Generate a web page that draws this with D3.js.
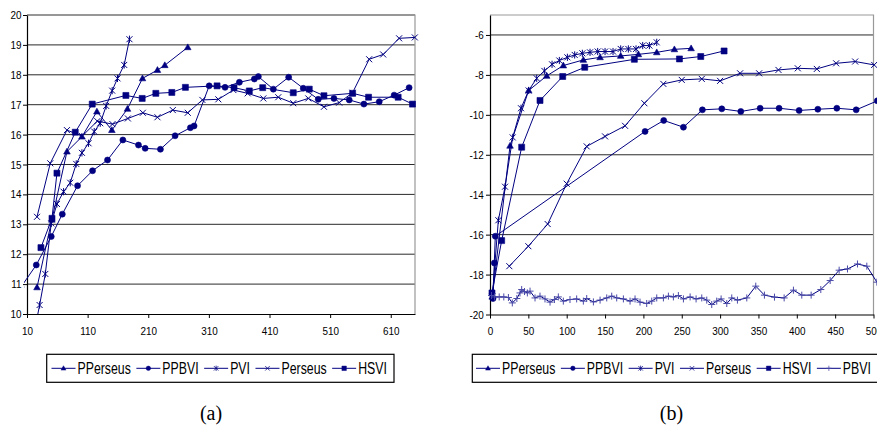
<!DOCTYPE html>
<html lang="en">
<head>
<meta charset="UTF-8">
<title>Value vs time, two domains</title>
<script src="https://d3js.org/d3.v7.min.js"></script>
<style>
    body { margin: 0; background: #fff; font-family: "Liberation Sans", Arial, sans-serif; }
    svg { display: block; }
    .tick text { font-size: 11px; fill: #000; font-family: "Liberation Sans", Arial, sans-serif; }
    .legend-text { font-size: 16px; fill: #000; }
    .caption { font-family: "Liberation Serif", "Times New Roman", serif; font-size: 20px; fill: #000; }
</style>
</head>
<body>
<svg id="chart" width="877" height="425"></svg>
<script>

// ---- chart (a) data: [time, value] ----
const aPPerseus = [[26.5,10.89],[51,13.15],[75.9,15.43],[100.6,15.93],[125.3,16.77],[150,16.15],[175.7,16.86],[200.5,17.88],[225.2,18.16],[237.3,18.32],[275.2,18.92]];
const aPPBVI = [[0,10.9],[25.3,11.64],[50,12.59],[68.2,13.34],[93.4,14.29],[118.1,14.79],[142.8,15.15],[168.1,15.82],[193.9,15.65],[204.9,15.54],[230.1,15.51],[254.3,15.96],[279.5,16.23],[285.6,16.29],[310.5,17.63],[336.7,17.58],[360.3,17.75],[385,17.86],[391.6,17.94],[416.3,17.52],[441.6,17.92],[465.7,17.55],[490.4,17.18],[516.3,17.21],[541.5,17.16],[565.7,17.02],[591,17.1],[615.6,17.32],[640.3,17.57]];
const aPVI = [[24,9.6],[30.8,10.3],[40.2,11.34],[50,13.03],[59.4,13.68],[70.3,14.09],[81.3,14.39],[91.2,15.02],[100.6,15.39],[111.5,15.71],[120.9,16.1],[130.8,16.38],[140.6,16.96],[150.5,17.47],[159.3,17.88],[170.3,18.33],[179,19.19]];
const aPerseus = [[26.5,13.25],[48.4,15.04],[75.9,16.15],[101,15.95],[126,16.45],[151,16.35],[176.4,16.54],[201.1,16.73],[225.2,16.58],[250.5,16.82],[275.2,16.73],[299.3,17.16],[325.6,17.18],[350.4,17.49],[374,17.38],[399.8,17.21],[424.5,17.25],[449.2,17.05],[474,17.21],[499.8,16.93],[525,17.07],[547,17.4],[574.4,18.52],[597.5,18.68],[623.8,19.22],[649.7,19.25]];
const aHSVI = [[33,12.22],[51.2,13.2],[59.4,14.71],[89.6,16.08],[117.6,17.02],[173.1,17.31],[200,17.21],[222.5,17.38],[248.9,17.41],[271.3,17.58],[323.5,17.63],[351.5,17.57],[376.7,17.46],[398.8,17.57],[449.2,17.4],[475.6,17.52],[499.8,17.3],[547.1,17.38],[573.4,17.25],[622.2,17.25],[645.9,17.02]];

const aXTicks = [10, 110, 210, 310, 410, 510, 610];
const aYTicks = [10, 11, 12, 13, 14, 15, 16, 17, 18, 19, 20];

// ---- chart (b) data ----
const bPPerseus = [[3,-19.1],[26.1,-11.55],[50.4,-8.78],[73.9,-8.05],[95.6,-7.53],[121.7,-7.25],[143.5,-7.12],[170.4,-7.05],[193.5,-6.97],[217.4,-6.87],[240.4,-6.72],[262.2,-6.67]];
const bPPBVI = [[3.9,-19.2],[5.6,-17.42],[6.9,-16.08],[202.2,-10.83],[226.5,-10.28],[252.2,-10.62],[276.9,-9.75],[302.2,-9.7],[327,-9.83],[352.2,-9.67],[376.9,-9.67],[403,-9.78],[427.4,-9.72],[452.2,-9.67],[477.4,-9.75],[505,-9.3]];
const bPVI = [[3,-19.1],[10.9,-15.28],[19.6,-13.6],[29.6,-11.13],[40.4,-9.67],[50.4,-8.78],[60.9,-8.17],[70.9,-7.8],[80.9,-7.47],[90.4,-7.28],[100.9,-7.12],[110.4,-7.0],[120.4,-6.92],[130.4,-6.87],[140.4,-6.83],[150,-6.83],[160.4,-6.83],[170.4,-6.7],[180.4,-6.7],[190.4,-6.7],[199.1,-6.53],[207.8,-6.53],[217.4,-6.37]];
const bPerseus = [[25.2,-17.58],[50,-16.58],[75.2,-15.47],[100,-13.45],[126.1,-11.58],[150,-11.08],[176.1,-10.55],[201.3,-9.42],[226,-8.45],[250,-8.25],[276.1,-8.2],[300,-8.3],[326.1,-7.92],[350.9,-7.92],[376.1,-7.75],[401.3,-7.67],[426.1,-7.7],[451.3,-7.42],[476.1,-7.33],[500.9,-7.5]];
const bHSVI = [[2.6,-18.92],[15.2,-16.3],[41.3,-11.62],[65.2,-9.28],[94.8,-8.08],[123.5,-7.62],[188.2,-7.22],[247,-7.2],[274.8,-7.08],[305.2,-6.8]];
const bPBVI = [[2,-19.05],[6,-19.12],[12,-19.12],[18,-19.12],[24,-19.15],[29.1,-19.42],[35,-19.2],[39.1,-18.92],[41.3,-18.75],[45,-18.85],[48.7,-18.92],[52.2,-18.83],[58.7,-19.17],[65.2,-19.08],[71.7,-19.22],[78.3,-19.38],[84,-19.25],[89.1,-19.12],[95.6,-19.33],[104.3,-19.25],[113,-19.22],[121.7,-19.33],[126.1,-19.2],[134.8,-19.37],[143.5,-19.28],[152.2,-19.17],[158.7,-19.08],[165.2,-19.17],[173.9,-19.22],[182.6,-19.33],[189.1,-19.22],[195.6,-19.38],[204.3,-19.45],[210.9,-19.33],[217.4,-19.17],[226.1,-19.17],[232.6,-19.08],[239.1,-19.12],[245.6,-19.05],[252.2,-19.22],[260.9,-19.12],[268.7,-19.22],[276.1,-19.17],[282.6,-19.28],[289.1,-19.5],[295.6,-19.33],[301.3,-19.22],[308.7,-19.45],[315.2,-19.17],[322.6,-19.28],[334.8,-19.17],[346.5,-18.58],[357.8,-19.03],[370.9,-19.13],[383.5,-19.17],[395.6,-18.78],[406.5,-19.03],[418.7,-19.03],[431.3,-18.75],[443.5,-18.3],[455.2,-17.78],[466.1,-17.72],[479.1,-17.47],[491.3,-17.58],[504.4,-18.38]];

const bXTicks = [0, 50, 100, 150, 200, 250, 300, 350, 400, 450, 500];
const bYTicks = [-20, -18, -16, -14, -12, -10, -8, -6];

const navy = '#000080';
const svg = d3.select('#chart');

// marker shapes, centred on 0,0
const markerPaths = {
    triangle: 'M0,-3.4L3.3,2.4L-3.3,2.4Z',
    circle: 'M-3,0a3,3 0 1,0 6,0a3,3 0 1,0 -6,0',
    square: 'M-3,-3h6v6h-6Z',
    cross: 'M-3,-3L3,3M-3,3L3,-3',
    star: 'M-3,-3L3,3M-3,3L3,-3M0,-3.6V3.6',
    plus: 'M-3.5,0H3.5M0,-3.5V3.5'
};
const filled = { triangle: true, circle: true, square: true };

function drawMarker(g, type, x, y, color, k) {
    const m = g.append('path')
        .attr('d', markerPaths[type])
        .attr('transform', `translate(${x},${y}) scale(${k || 1})`);
    if (filled[type]) m.attr('fill', navy).attr('stroke', navy).attr('stroke-width', 0.6);
    else m.attr('fill', 'none').attr('stroke', color || navy).attr('stroke-width', 1);
}

function drawPanel(p) {
    const g = svg.append('g').attr('transform', `translate(${p.left},${p.top})`);
    const x = d3.scaleLinear().domain(p.xDomain).range([0, p.width]);
    const y = d3.scaleLinear().domain(p.yDomain).range([p.height, 0]);

    // horizontal gridlines
    g.selectAll('.grid')
        .data(p.gridTicks)
        .join('line')
        .attr('x1', 0).attr('x2', p.width)
        .attr('y1', d => y(d)).attr('y2', d => y(d))
        .attr('stroke', '#2a2a2a')
        .attr('stroke-width', 1);

    // plot area border (top + right)
    g.append('path')
        .attr('d', `M0,0H${p.width}V${p.height}`)
        .attr('fill', 'none')
        .attr('stroke', '#999')
        .attr('stroke-width', 1.2);

    // axes
    const xAxis = g.append('g')
        .attr('transform', `translate(0,${p.height})`)
        .call(d3.axisBottom(x).tickValues(p.xTicks).tickFormat(d3.format('d'))
            .tickSizeInner(4).tickSizeOuter(0).tickPadding(9));
    const yAxis = g.append('g')
        .call(d3.axisLeft(y).tickValues(p.yTicks).tickFormat(d => d < 0 ? '-' + Math.abs(d) : d)
            .tickSizeInner(4).tickSizeOuter(0).tickPadding(p.yPad));
    [xAxis, yAxis].forEach(a => {
        a.select('.domain').attr('stroke', '#000').attr('stroke-width', 1.2);
        a.selectAll('.tick line').attr('stroke', '#000');
        a.selectAll('.tick text').attr('transform', 'scale(0.9,1)');
    });

    // clip the series like the spreadsheet plot area
    const clipId = 'clip-' + p.name;
    g.append('clipPath').attr('id', clipId)
        .append('rect')
        .attr('x', -3).attr('y', -2)
        .attr('width', p.width + 12).attr('height', p.height + 2);

    const plot = g.append('g').attr('clip-path', `url(#${clipId})`);
    const line = d3.line().x(d => x(d[0])).y(d => y(d[1]));

    p.series.forEach(s => {
        plot.append('path')
            .datum(s.data)
            .attr('d', line)
            .attr('fill', 'none')
            .attr('stroke', navy)
            .attr('stroke-width', 1);
        const mg = plot.append('g');
        s.data.forEach(d => drawMarker(mg, s.type, x(d[0]), y(d[1]), s.markerColor));
    });
}

// legend: sample line + marker, then the label squeezed like the original
function drawLegend(lx, ly, lw, lh, startX, series) {
    svg.append('rect')
        .attr('x', lx).attr('y', ly)
        .attr('width', lw).attr('height', lh)
        .attr('fill', '#fff')
        .attr('stroke', '#000')
        .attr('stroke-width', 1.2);
    const cy = ly + lh / 2;
    const sx = 0.77;
    let cx = startX;
    series.forEach(s => {
        svg.append('line')
            .attr('x1', cx).attr('x2', cx + 24)
            .attr('y1', cy).attr('y2', cy)
            .attr('stroke', navy).attr('stroke-width', 1);
        drawMarker(svg.append('g'), s.type, cx + 12, cy, s.markerColor, 0.75);
        const t = svg.append('text')
            .attr('class', 'legend-text')
            .attr('transform', `translate(${cx + 26},${cy + 5.7}) scale(${sx},1)`)
            .text(s.name);
        cx += 26 + t.node().getComputedTextLength() * sx + 5.5;
    });
}

const seriesA = [
    { name: 'PPerseus', type: 'triangle', data: aPPerseus },
    { name: 'PPBVI', type: 'circle', data: aPPBVI },
    { name: 'PVI', type: 'star', data: aPVI },
    { name: 'Perseus', type: 'cross', data: aPerseus },
    { name: 'HSVI', type: 'square', data: aHSVI }
];
const seriesB = [
    { name: 'PPerseus', type: 'triangle', data: bPPerseus },
    { name: 'PPBVI', type: 'circle', data: bPPBVI },
    { name: 'PVI', type: 'star', data: bPVI },
    { name: 'Perseus', type: 'cross', data: bPerseus },
    { name: 'HSVI', type: 'square', data: bHSVI },
    { name: 'PBVI', type: 'plus', data: bPBVI, markerColor: '#4a4aa8' }
];

drawPanel({
    name: 'a', left: 27, top: 15, width: 388, height: 299,
    xDomain: [10, 650], yDomain: [10, 20],
    xTicks: aXTicks, yTicks: aYTicks,
    gridTicks: aYTicks.slice(1), yPad: 2,
    series: seriesA
});

drawPanel({
    name: 'b', left: 490, top: 15, width: 383.5, height: 299.5,
    xDomain: [0, 500], yDomain: [-20, -5],
    xTicks: bXTicks, yTicks: bYTicks,
    gridTicks: bYTicks.slice(1), yPad: 3,
    series: seriesB
});

drawLegend(46.7, 354.3, 347.3, 28, 51.5, seriesA);
drawLegend(472.3, 354.3, 410, 28, 476, seriesB);

svg.append('text').attr('class', 'caption')
    .attr('x', 211).attr('y', 420).attr('text-anchor', 'middle').text('(a)');
svg.append('text').attr('class', 'caption')
    .attr('x', 671.5).attr('y', 420).attr('text-anchor', 'middle').text('(b)');

</script>
</body>
</html>
